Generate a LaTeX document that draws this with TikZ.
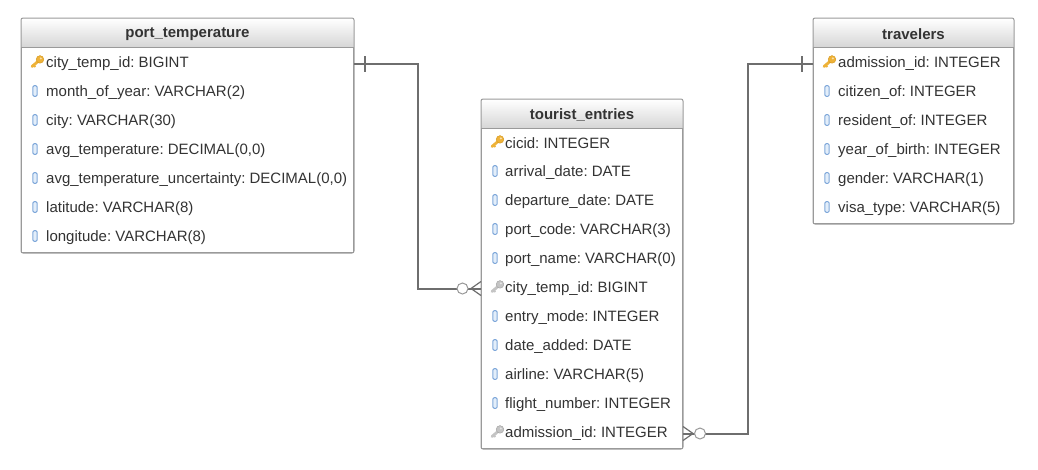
\documentclass[tikz,border=0pt]{standalone}
\usepackage{fontspec}
\setmainfont{Liberation Sans}
\frenchspacing
\definecolor{tblborder}{HTML}{9A9A9A}
\definecolor{hdrbot}{HTML}{D6D6D6}
\definecolor{txt}{HTML}{333333}
\definecolor{conncol}{HTML}{6E6E6E}
\definecolor{keygold}{HTML}{EEB238}
\definecolor{keydark}{HTML}{D4961C}
\definecolor{fkgray}{HTML}{C4C4C4}
\definecolor{fkdark}{HTML}{A0A0A0}
\definecolor{colblue}{HTML}{7FA8DA}
\definecolor{colfill}{HTML}{E3EEFA}
\tikzset{
  tbl/.style={draw=tblborder, line width=1pt, fill=white, inner sep=0pt, anchor=north west},
  hdr/.style={font=\bfseries\fontsize{15}{18}\selectfont, text=txt, inner sep=0pt, yshift=-1.5pt},
  fld/.style={anchor=west, font=\fontsize{15}{18}\selectfont, text=txt, inner sep=0pt, yshift=-1.5pt},
  conn/.style={draw=conncol, line width=2pt},
  cardmark/.style={draw=conncol, line width=1.2pt},
  pkey/.pic={
    \draw[keygold, line width=2.8pt, line cap=round] (1.5,-1) -- (-5,4.5);
    \draw[keygold, line width=1.8pt] (-3.2,3.2) -- (-1.6,5);
    \fill[keygold, draw=keydark, line width=0.4pt] (3,-2.6) circle (3.8);
    \fill[white!60!keygold] (3.8,-3.6) circle (1.1);
  },
  fkey/.pic={
    \draw[fkgray, line width=2.8pt, line cap=round] (1.5,-1) -- (-5,4.5);
    \draw[fkgray, line width=1.8pt] (-3.2,3.2) -- (-1.6,5);
    \fill[fkgray, draw=fkdark, line width=0.4pt] (3,-2.6) circle (3.8);
    \fill[white!60!fkgray] (3.8,-3.6) circle (1.1);
  },
  colicon/.pic={
    \draw[colblue, fill=colfill, line width=1pt, rounded corners=1.3pt] (-2.2,-5.3) rectangle (2.2,5.3);
  },
}
\newcommand\erdtable[6]{%
  \node[tbl, minimum width=#4pt, minimum height=#5pt] (#1) at (#2,#3) {};
  \shade[top color=white, bottom color=hdrbot] ([shift={(0.5pt,-0.5pt)}]#1.north west) rectangle ([shift={(-0.5pt,-29pt)}]#1.north east);
  \draw[tblborder, line width=1pt] ([yshift=-29pt]#1.north west) -- ([yshift=-29pt]#1.north east);
  \draw[tblborder, line width=1pt, rounded corners=2pt] (#1.north west) rectangle (#1.south east);
  \node[hdr] (#1-title) at ([yshift=-14.5pt]#1.north) {#6};
}
\begin{document}
\begin{tikzpicture}[x=1pt, y=-1pt]
\useasboundingbox[fill=white] (0,0) rectangle (1038,469);

% ---------- port_temperature ----------
\erdtable{pt}{21}{18}{332}{234}{port\_temperature}
\pic at (37,62) {pkey};   \node[fld] (pt1) at (46,62)  {city\_temp\_id: BIGINT};
\pic at (35,91) {colicon};  \node[fld] (pt2) at (46,91)  {month\_of\_year: VARCHAR(2)};
\pic at (35,120) {colicon}; \node[fld] (pt3) at (46,120) {city: VARCHAR(30)};
\pic at (35,149) {colicon}; \node[fld] (pt4) at (46,149) {avg\_temperature: DECIMAL(0,0)};
\pic at (35,178) {colicon}; \node[fld] (pt5) at (46,178) {avg\_temperature\_uncertainty: DECIMAL(0,0)};
\pic at (35,207) {colicon}; \node[fld] (pt6) at (46,207) {latitude: VARCHAR(8)};
\pic at (35,236) {colicon}; \node[fld] (pt7) at (46,236) {longitude: VARCHAR(8)};

% ---------- tourist_entries ----------
\erdtable{te}{481}{99}{201}{349}{tourist\_entries}
\pic at (497,142) {pkey};    \node[fld] (te1)  at (505,142) {cicid: INTEGER};
\pic at (495,171) {colicon}; \node[fld] (te2)  at (505,171) {arrival\_date: DATE};
\pic at (495,200) {colicon}; \node[fld] (te3)  at (505,200) {departure\_date: DATE};
\pic at (495,229) {colicon}; \node[fld] (te4)  at (505,229) {port\_code: VARCHAR(3)};
\pic at (495,258) {colicon}; \node[fld] (te5)  at (505,258) {port\_name: VARCHAR(0)};
\pic at (497,287) {fkey};    \node[fld] (te6)  at (505,287) {city\_temp\_id: BIGINT};
\pic at (495,316) {colicon}; \node[fld] (te7)  at (505,316) {entry\_mode: INTEGER};
\pic at (495,345) {colicon}; \node[fld] (te8)  at (505,345) {date\_added: DATE};
\pic at (495,374) {colicon}; \node[fld] (te9)  at (505,374) {airline: VARCHAR(5)};
\pic at (495,403) {colicon}; \node[fld] (te10) at (505,403) {flight\_number: INTEGER};
\pic at (497,432) {fkey};    \node[fld] (te11) at (505,432) {admission\_id: INTEGER};

% ---------- travelers ----------
\erdtable{tr}{813}{18}{200}{205}{travelers}
\pic at (829,62) {pkey};     \node[fld] (tr1) at (838,62)  {admission\_id: INTEGER};
\pic at (827,91) {colicon};  \node[fld] (tr2) at (838,91)  {citizen\_of: INTEGER};
\pic at (827,120) {colicon}; \node[fld] (tr3) at (838,120) {resident\_of: INTEGER};
\pic at (827,149) {colicon}; \node[fld] (tr4) at (838,149) {year\_of\_birth: INTEGER};
\pic at (827,178) {colicon}; \node[fld] (tr5) at (838,178) {gender: VARCHAR(1)};
\pic at (827,207) {colicon}; \node[fld] (tr6) at (838,207) {visa\_type: VARCHAR(5)};

% ---------- connectors ----------
\coordinate (e1) at (pt.east |- pt1);
\coordinate (e2) at (te.west |- te6);
\coordinate (e3) at (te.east |- te11);
\coordinate (e4) at (tr.west |- tr1);

\draw[conn] (e1) -- ++(64pt,0) |- (e2);
\draw[conn] (e3) -- ++(65pt,0) |- (e4);

% one side bars
\draw[cardmark, line width=1.6pt] ([shift={(11pt,-8pt)}]e1) -- ([shift={(11pt,8pt)}]e1);
\draw[cardmark, line width=1.6pt] ([shift={(-11pt,-8pt)}]e4) -- ([shift={(-11pt,8pt)}]e4);

% zero-or-many: crow's foot + circle
\draw[cardmark] ([xshift=-10pt]e2) -- ([yshift=7pt]e2);
\draw[cardmark] ([xshift=-10pt]e2) -- ([yshift=-7pt]e2);
\draw[cardmark, draw=conncol!70, line width=1pt, fill=white] ([xshift=-18.5pt]e2) circle (5.5pt);

\draw[cardmark] ([xshift=10pt]e3) -- ([yshift=7pt]e3);
\draw[cardmark] ([xshift=10pt]e3) -- ([yshift=-7pt]e3);
\draw[cardmark, draw=conncol!70, line width=1pt, fill=white] ([xshift=17pt]e3) circle (5.5pt);
\end{tikzpicture}
\end{document}
